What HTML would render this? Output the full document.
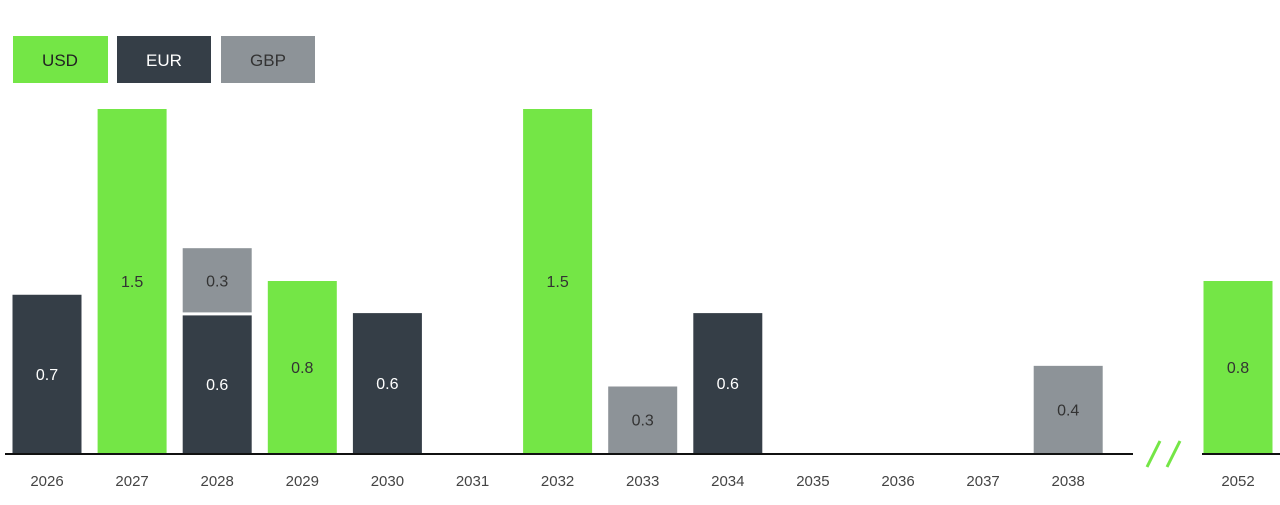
<!DOCTYPE html>
<html><head><meta charset="utf-8"><style>
html,body{margin:0;padding:0;background:#fff;width:1280px;height:505px;overflow:hidden;font-family:"Liberation Sans",sans-serif}
</style></head><body>
<svg id="chart" width="1280" height="505" viewBox="0 0 1280 505" xmlns="http://www.w3.org/2000/svg" font-family="Liberation Sans, sans-serif">
<g>
<g><rect x="13" y="36" width="95" height="47" fill="#74e646"/><text x="60" y="66" text-anchor="middle" font-size="17" fill="#222">USD</text></g>
<g><rect x="117" y="36" width="94" height="47" fill="#353e47"/><text x="164" y="66" text-anchor="middle" font-size="17" fill="#fff">EUR</text></g>
<g><rect x="221" y="36" width="94" height="47" fill="#8d9398"/><text x="268" y="66" text-anchor="middle" font-size="17" fill="#333">GBP</text></g>
</g>
<g id="bars"></g>
<line x1="5" y1="454" x2="1133" y2="454" stroke="#111" stroke-width="2"/>
<line x1="1202" y1="454" x2="1280" y2="454" stroke="#111" stroke-width="2"/>
<g stroke="#74e646" stroke-width="3">
<line x1="1147" y1="467" x2="1160" y2="441"/><line x1="1167" y1="467" x2="1180" y2="441"/>
</g>
<g id="labels"></g>
</svg>
<script>
const categories=["2026","2027","2028","2029","2030","2031","2032","2033","2034","2035","2036","2037","2038","2052"];
const usd=[0,1.5,0,0.75,0,0,1.5,0,0,0,0,0,0,0.75];
const eur=[0.69,0,0.6,0,0.61,0,0,0,0.61,0,0,0,0,0];
const gbp=[0,0,0.28,0,0,0,0,0.29,0,0,0,0,0.38,0];
const usdLabels=["","1.5","","0.8","","","1.5","","","","","","","0.8"];
const eurLabels=["0.7","","0.6","","0.6","","","","0.6","","","","",""];
const gbpLabels=["","","0.3","","","","","0.3","","","","","0.4",""];
const NS="http://www.w3.org/2000/svg";
const base=454, scale=344/1.5, bw=69;
function xCenter(i){return i<13?47+i*85.1:1238;}
function yScale(v){return v*scale;}
const bars=document.getElementById('bars'), labels=document.getElementById('labels');
function addBar(i,y0,v,color,label,tcolor,name){
  const h=yScale(v);const r=document.createElementNS(NS,'rect');
  r.setAttribute('x',xCenter(i)-bw/2);r.setAttribute('y',y0-h);r.setAttribute('width',bw);r.setAttribute('height',h);r.setAttribute('fill',color);
  
  
  bars.appendChild(r);
  if(label){const t=document.createElementNS(NS,'text');
    t.setAttribute('x',xCenter(i));t.setAttribute('y',y0-h/2+6);t.setAttribute('text-anchor','middle');t.setAttribute('font-size','16');t.setAttribute('fill',tcolor);t.textContent=label;
    
    
    bars.appendChild(t);}
  return y0-h;
}
categories.forEach((c,i)=>{
  let y=base-1;
  if(eur[i]>0){y=addBar(i,y,eur[i],'#353e47',eurLabels[i],'#fff','eur');y-=3;}
  if(gbp[i]>0){y=addBar(i,y,gbp[i],'#8d9398',gbpLabels[i],'#333','gbp');y-=3;}
  if(usd[i]>0){y=addBar(i,y,usd[i],'#74e646',usdLabels[i],'#333','usd');}
  const t=document.createElementNS(NS,'text');
  t.setAttribute('x',xCenter(i));t.setAttribute('y',486);t.setAttribute('text-anchor','middle');t.setAttribute('font-size','15');t.setAttribute('fill','#444');t.textContent=c;
  
  
  labels.appendChild(t);
});
</script>
</body></html>
